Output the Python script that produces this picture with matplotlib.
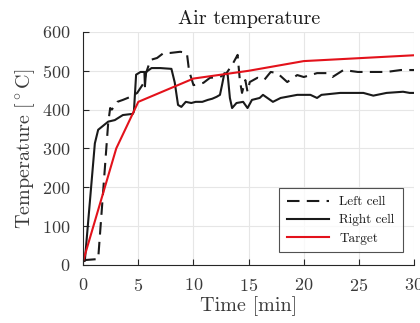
import matplotlib
matplotlib.use("Agg")
import matplotlib.pyplot as plt

plt.rcParams["font.family"] = ["cmr10", "DejaVu Serif"]
plt.rcParams["mathtext.fontset"] = "cm"
plt.rcParams["axes.formatter.use_mathtext"] = True

# Target profile
t_target = [0, 3, 5, 10, 15, 20, 30]
T_target = [10, 300, 420, 480, 500, 525, 540]

# Right cell measurement
t_right = [0, 0.15, 1.06, 1.36, 2.27, 2.87, 3.6, 4.5, 4.6, 4.8, 5.2, 5.55, 5.6, 5.7, 6.2, 7.0,
           8.0, 8.3, 8.6, 8.9, 9.3, 9.8, 10.2, 10.8, 11.3, 11.7, 12.1, 12.4, 12.6, 12.8,
           13.1, 13.3, 13.5, 13.9, 14.5, 14.9, 15.3, 16.0, 16.3, 17.2, 17.9, 19.4, 20.6,
           21.2, 21.6, 23.3, 25.4, 26.3, 27.5, 29.0, 29.6, 30.0]
T_right = [10, 10, 313, 348, 369, 373, 386, 389, 395, 490, 497, 497, 460, 497, 507, 507,
           505, 470, 412, 407, 420, 417, 420, 420, 425, 428, 433, 438, 465, 494,
           490, 430, 404, 417, 420, 404, 425, 430, 438, 420, 430, 438, 438,
           430, 438, 443, 443, 436, 443, 446, 443, 443]

# Left cell measurement
t_left = [0, 1.36, 2.27, 2.45, 2.6, 3.1, 3.6, 4.3, 4.9, 5.5, 5.7, 6.1, 6.7, 7.3, 7.9, 8.8,
          9.4, 9.6, 10.0, 10.9, 11.5, 12.4, 13.0, 13.6, 14.0, 14.2, 14.4, 14.7, 14.9, 15.1,
          15.8, 16.4, 17.0, 17.6, 18.5, 19.4, 20.0, 21.2, 22.1, 22.6, 23.6, 24.9, 26.0,
          27.5, 28.8, 30.0]
T_left = [12, 15, 366, 404, 400, 420, 425, 433, 443, 469, 494, 528, 533, 546, 546, 549,
          546, 500, 463, 469, 482, 484, 494, 520, 541, 476, 443, 476, 446, 471,
          482, 476, 497, 494, 471, 489, 484, 494, 494, 484, 502, 497, 497,
          497, 502, 502]

x_ticks = [0, 5, 10, 15, 20, 25, 30]
y_ticks = [0, 100, 200, 300, 400, 500, 600]

text_col = "#3a3a3a"
fig = plt.figure(figsize=(4.2, 3.23), dpi=100)
ax = fig.add_axes([0.198, 0.180, 0.788, 0.721])

ax.plot(t_left, T_left, color="#1a1a1a", lw=1.5, dashes=(6, 3.5), label="Left cell")
ax.plot(t_right, T_right, color="#1a1a1a", lw=1.5, label="Right cell")
ax.plot(t_target, T_target, color="#e3121b", lw=1.5, label="Target")

ax.set_xlim(0, 30)
ax.set_ylim(0, 600)
ax.set_xticks(x_ticks)
ax.set_yticks(y_ticks)
ax.grid(True, color="#e6e6e6", lw=0.8)
ax.set_axisbelow(True)
for s in ("top", "right"):
    ax.spines[s].set_visible(False)
for s in ("left", "bottom"):
    ax.spines[s].set_color("#262626")
    ax.spines[s].set_linewidth(0.8)
ax.tick_params(direction="in", length=4, width=0.8, color="#262626",
               labelsize=13, labelcolor=text_col)
ax.tick_params(axis="x", pad=9)
ax.tick_params(axis="y", pad=9)

ax.set_xlabel("Time [min]", fontsize=14.5, color=text_col, labelpad=1)
ax.set_ylabel(r"Temperature [$^\circ$C]", fontsize=14.5, color=text_col, labelpad=4)
ax.set_title("Air temperature", fontsize=14.5, color="#1a1a1a", pad=6)

leg = ax.legend(loc="lower right", fontsize=9.5, frameon=True, fancybox=False,
                edgecolor="#262626", handlelength=3.2, borderpad=0.6,
                labelspacing=0.45, bbox_to_anchor=(0.985, 0.025))
leg.get_frame().set_linewidth(0.8)
for txt in leg.get_texts():
    txt.set_color("#1a1a1a")

fig.savefig("out.png", dpi=100)
